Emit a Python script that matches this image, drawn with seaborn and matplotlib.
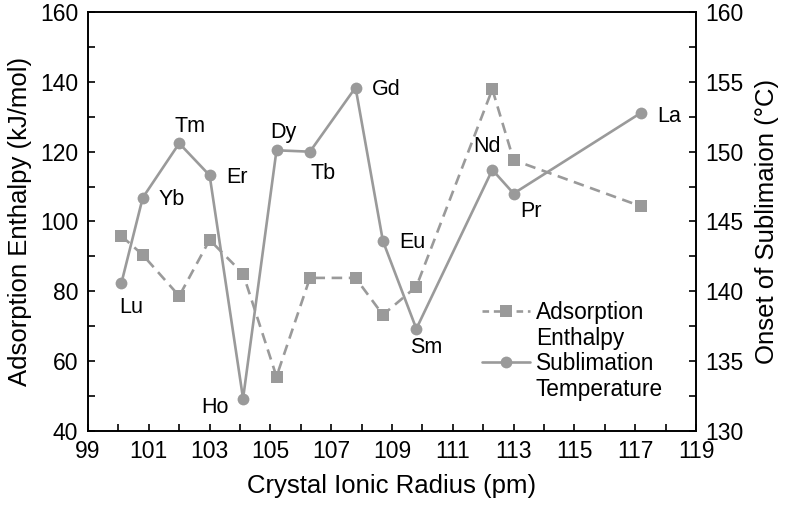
import matplotlib
matplotlib.use("Agg")
import matplotlib.pyplot as plt
from matplotlib.lines import Line2D
import seaborn as sns
import pandas as pd

# data
elements = ["Lu", "Yb", "Tm", "Er", "Ho", "Dy", "Tb", "Gd", "Eu", "Sm", "Nd", "Pr", "La"]
radius = [100.1, 100.8, 102.0, 103.0, 104.1, 105.2, 106.3, 107.8, 108.7, 109.8, 112.3, 113.0, 117.2]
enthalpy = [95.8, 90.4, 78.6, 94.7, 85.0, 55.5, 83.8, 83.8, 73.2, 81.3, 137.9, 117.6, 104.3]
sublimation = [140.6, 146.7, 150.6, 148.3, 132.3, 150.1, 150.0, 154.6, 143.6, 137.3, 148.7, 147.0, 152.8]

# label offsets (pixels) relative to the sublimation points
label_dx = [10, 29, 11, 27, -28, 7, 13, 31, 29, 10, -5, 17, 28]
label_dy = [-25, -2, 17, -2, -9, 18, -22, -2, -2, -19, 23, -18, -4]

df = pd.DataFrame({"radius": radius, "enthalpy": enthalpy,
                   "sublimation": sublimation, "element": elements})

sns.set_style("ticks")
plt.rcParams["font.family"] = ["Liberation Sans", "DejaVu Sans"]
plt.rcParams["text.color"] = "black"
plt.rcParams["axes.labelcolor"] = "black"
grey = "#9a9a9a"

fig = plt.figure(figsize=(7.86, 5.09), dpi=100)
ax = fig.add_axes([0.112, 0.154, 0.7735, 0.822])
ax2 = ax.twinx()

sns.lineplot(data=df, x="radius", y="enthalpy", ax=ax, color=grey,
             marker="s", markersize=8, markeredgewidth=0, linewidth=1.9,
             dashes=False, linestyle=(0, (4, 2.5)), legend=False)
sns.lineplot(data=df, x="radius", y="sublimation", ax=ax2, color=grey,
             marker="o", markersize=8.5, markeredgewidth=0, linewidth=1.9,
             legend=False)

for i, el in enumerate(elements):
    ax2.annotate(el, (radius[i], sublimation[i]), xytext=(label_dx[i], label_dy[i]),
                 textcoords="offset pixels", ha="center", va="center", fontsize=15.5)

ax.set_xlim(99, 119)
ax.set_ylim(40, 160)
ax2.set_ylim(130, 160)
ax.set_xticks(range(99, 120, 2))
ax.set_xticks(range(99, 120, 1), minor=True)
ax.set_yticks(range(40, 161, 20))
ax.set_yticks(range(40, 161, 10), minor=True)
ax2.set_yticks(range(130, 161, 5))
ax2.set_yticks([130 + 2.5 * k for k in range(13)], minor=True)

for a in (ax, ax2):
    a.tick_params(which="both", direction="in", length=5, width=1.2,
                  labelsize=16.5, colors="black", pad=7)
    for s in a.spines.values():
        s.set_linewidth(1.2)
        s.set_color("black")
ax.tick_params(which="both", top=False, right=False)
ax2.tick_params(which="both", top=False, left=False, right=True)

ax.set_xlabel("Crystal Ionic Radius (pm)", fontsize=18.5, labelpad=8)
ax.set_ylabel("Adsorption Enthalpy (kJ/mol)", fontsize=18.5, labelpad=6)
ax2.set_ylabel("Onset of Sublimaion (°C)", fontsize=18.5, labelpad=8)

# legend: handle sits on the first line of each two-line entry
h_ads = Line2D([], [], color=grey, marker="s", markersize=8, markeredgewidth=0,
               linewidth=1.9, linestyle=(0, (2.5, 1.8)))
h_sub = Line2D([], [], color=grey, marker="o", markersize=8.5, markeredgewidth=0,
               linewidth=1.9)
blank = Line2D([], [], linestyle="none")
ax2.legend([h_ads, blank, h_sub, blank],
           ["Adsorption", "Enthalpy", "Sublimation", "Temperature"],
           loc="upper left", bbox_to_anchor=(0.648, 0.31),
           frameon=False, fontsize=16.3, handlelength=2.1, handletextpad=0.27,
           labelspacing=0.12, borderaxespad=0, borderpad=0)

fig.savefig("out.png", dpi=100)
